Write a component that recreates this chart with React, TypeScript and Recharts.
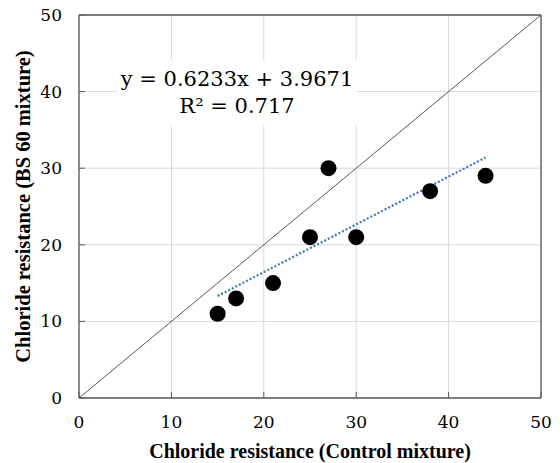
import React from "react";
import {
  ComposedChart,
  Scatter,
  Line,
  XAxis,
  YAxis,
  CartesianGrid,
  ReferenceLine,
  ReferenceArea,
} from "recharts";

const controlMixture = [15, 17, 21, 25, 27, 30, 38, 44];
const bs60Mixture = [11, 13, 15, 21, 30, 21, 27, 29];
const axisTicks = [0, 10, 20, 30, 40, 50];
const trendSlope = 0.6233;
const trendIntercept = 3.9671;
const trendRange = [15, 44];
const equationText = "y = 0.6233x + 3.9671";
const r2Text = "R² = 0.717";
const xTitle = "Chloride resistance (Control mixture)";
const yTitle = "Chloride resistance (BS 60 mixture)";

const points = controlMixture.map((x, i) => ({ x, y: bs60Mixture[i] }));
const trend = trendRange.map((x) => ({ x, y: trendSlope * x + trendIntercept }));

const FONT = "Liberation Serif";
const REG_FONT = "DejaVu Serif";
const BORDER = "#595959";

const Dot = (props: any) => (
  <circle cx={props.cx} cy={props.cy} r={8} fill="#000" />
);

const EquationLabel = (props: any) => {
  const vb = props.viewBox || {};
  const cx = vb.x + vb.width / 2;
  return (
    <g>
      <text x={cx} y={vb.y + 26} textAnchor="middle" fontFamily={REG_FONT} fontSize={21} fill="#000">
        {equationText}
      </text>
      <text x={cx} y={vb.y + 53} textAnchor="middle" fontFamily={REG_FONT} fontSize={21} fill="#000">
        {r2Text}
      </text>
    </g>
  );
};

const YTitle = (props: any) => {
  const vb = props.viewBox || {};
  const x = vb.x + 23;
  const y = vb.y + vb.height / 2;
  return (
    <text
      x={x}
      y={y}
      transform={`rotate(-90 ${x} ${y})`}
      textAnchor="middle"
      dominantBaseline="central"
      fontFamily={FONT}
      fontSize={20.5}
      fontWeight="bold"
      fill="#000"
    >
      {yTitle}
    </text>
  );
};

const XTitle = (props: any) => {
  const vb = props.viewBox || {};
  return (
    <text
      x={vb.x + vb.width / 2}
      y={vb.y + 60}
      textAnchor="middle"
      fontFamily={FONT}
      fontSize={20}
      fontWeight="bold"
      fill="#000"
    >
      {xTitle}
    </text>
  );
};

const tickStyle = { fill: "#000", fontSize: 17, fontFamily: REG_FONT };

export default function App() {
  return (
    <div style={{ position: "absolute", left: 0, top: 0, background: "#fff" }}>
      <ComposedChart
        width={560}
        height={463}
        margin={{ top: 15, right: 19, left: 0, bottom: 0 }}
      >
        <CartesianGrid stroke="#d9d9d9" strokeWidth={1} />
        <XAxis
          type="number"
          dataKey="x"
          domain={[0, 50]}
          ticks={axisTicks}
          allowDataOverflow
          height={65}
          axisLine={{ stroke: BORDER, strokeWidth: 1.3 }}
          tickLine={{ stroke: BORDER }}
          tickSize={-6}
          tickMargin={24}
          tick={tickStyle}
          label={<XTitle />}
        />
        <YAxis
          type="number"
          dataKey="y"
          domain={[0, 50]}
          ticks={axisTicks}
          allowDataOverflow
          width={79}
          axisLine={{ stroke: BORDER, strokeWidth: 1.3 }}
          tickLine={{ stroke: BORDER }}
          tickSize={-6}
          tickMargin={23}
          tick={tickStyle}
          label={<YTitle />}
        />
        <ReferenceLine y={50} stroke={BORDER} strokeWidth={1.3} ifOverflow="extendDomain" />
        <ReferenceLine x={50} stroke={BORDER} strokeWidth={1.3} ifOverflow="extendDomain" />
        <ReferenceLine
          segment={[{ x: 0, y: 0 }, { x: 50, y: 50 }]}
          stroke={BORDER}
          strokeWidth={1}
        />
        <ReferenceArea
          x1={4.1}
          x2={30.1}
          y1={35.6}
          y2={44.1}
          fill="#fff"
          fillOpacity={1}
          stroke="none"
          label={<EquationLabel />}
        />
        <Line
          data={trend}
          dataKey="y"
          type="linear"
          stroke="#4472C4"
          strokeWidth={2.2}
          strokeDasharray="2 2"
          dot={false}
          activeDot={false}
          isAnimationActive={false}
        />
        <Scatter
          data={points}
          dataKey="y"
          fill="#000"
          shape={<Dot />}
          isAnimationActive={false}
        />
      </ComposedChart>
    </div>
  );
}
